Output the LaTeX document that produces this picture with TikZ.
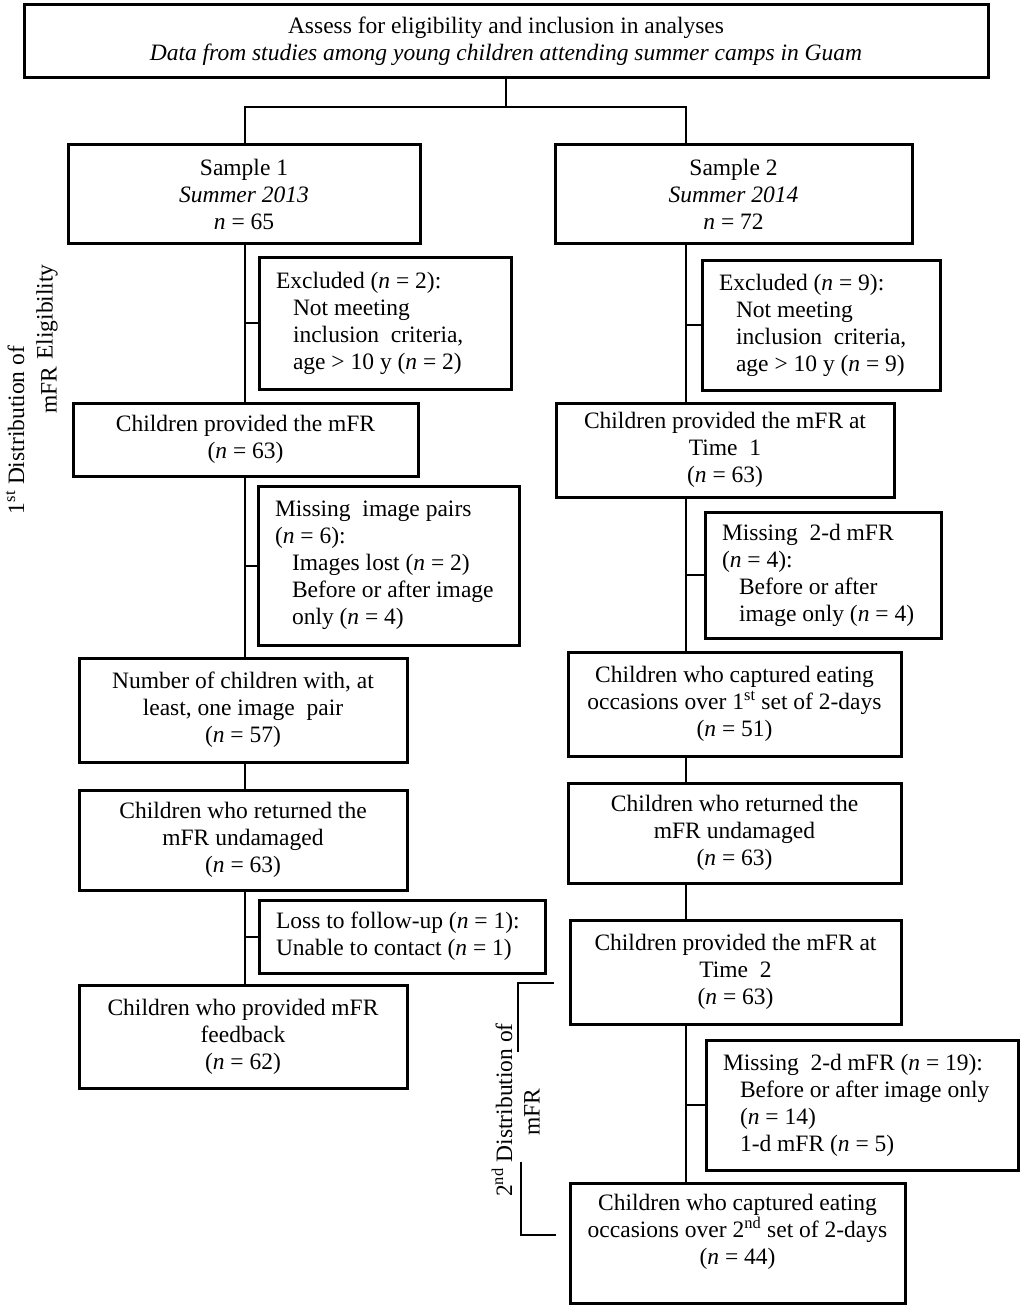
\documentclass[tikz,border=0pt]{standalone}
\usepackage{fontspec}
\setmainfont{Liberation Serif}
\newcommand{\ind}{\hspace*{17pt}}
\newcommand{\nn}{\textit{n}}
\newcommand{\ltext}[2]{\parbox{#1}{\raggedright #2}}
\tikzset{
  box/.style={draw, line width=3pt, rectangle, inner xsep=0pt, inner ysep=0pt, align=center,
    font=\fontsize{23.5}{27}\selectfont},
  lbox/.style={box},
  conn/.style={line width=2pt},
  side/.style={font=\fontsize{23.5}{27}\selectfont, rotate=90, inner sep=0pt}
}
\begin{document}
\begin{tikzpicture}[x=1pt,y=-1pt]
\useasboundingbox (0,0) rectangle (1024,1308);
\fill[white] (0,0) rectangle (1024,1308);
% top
\node[box, minimum width=964pt, minimum height=73pt] (top) at (506,41.5)
  {Assess for eligibility and inclusion in analyses\\
   \textit{Data from studies among young children attending summer camps in Guam}};
% samples
\node[box, minimum width=352pt, minimum height=98pt] (s1) at (244,194)
  {Sample 1\\ \textit{Summer 2013}\\ \nn{} = 65};
\node[box, minimum width=357pt, minimum height=98pt] (s2) at (733.5,194)
  {Sample 2\\ \textit{Summer 2014}\\ \nn{} = 72};
% left column
\node[lbox, minimum width=252pt, minimum height=132pt] (ex1) at (385,323)
  {\ltext{218pt}{Excluded (\nn{} = 2):\\ \ind Not meeting\\ \ind inclusion\ \ criteria,\\ \ind age > 10 y (\nn{} = 2)}};
\node[box, minimum width=345pt, minimum height=73pt] (c1) at (245.5,439.5)
  {Children provided the mFR\\ (\nn{} = 63)};
\node[lbox, minimum width=261pt, minimum height=159pt] (mi1) at (388.5,565.5)
  {\ltext{227pt}{Missing\ \ image pairs\\ (\nn{} = 6):\\ \ind Images lost (\nn{} = 2)\\ \ind Before or after image\\ \ind only (\nn{} = 4)}};
\node[box, minimum width=328pt, minimum height=104pt] (n1) at (243,710)
  {Number of children with, at\\ least, one image\ \ pair\\ (\nn{} = 57)};
\node[box, minimum width=328pt, minimum height=100pt] (r1) at (243,840)
  {Children who returned the\\ mFR undamaged\\ (\nn{} = 63)};
\node[lbox, minimum width=286pt, minimum height=73pt] (l1) at (402,936.5)
  {\ltext{252pt}{Loss to follow-up (\nn{} = 1):\\ Unable to contact (\nn{} = 1)}};
\node[box, minimum width=328pt, minimum height=103pt] (f1) at (243,1036.5)
  {Children who provided mFR\\ feedback\\ (\nn{} = 62)};
% right column
\node[lbox, minimum width=238pt, minimum height=130pt] (ex2) at (821,325)
  {\ltext{204pt}{Excluded (\nn{} = 9):\\ \ind Not meeting\\ \ind inclusion\ \ criteria,\\ \ind age > 10 y (\nn{} = 9)}};
\node[box, minimum width=338pt, minimum height=94pt] (c2) at (725,450)
  {Children provided the mFR at\\ Time\ \ 1\\ (\nn{} = 63)};
\node[lbox, minimum width=236pt, minimum height=126pt] (mi2) at (823,575)
  {\ltext{202pt}{Missing\ \ 2-d mFR\\ (\nn{} = 4):\\ \ind Before or after\\ \ind image only (\nn{} = 4)}};
\node[box, minimum width=333pt, minimum height=104pt] (cap1) at (734.5,704)
  {Children who captured eating\\ occasions over 1\textsuperscript{st} set of 2-days\\ (\nn{} = 51)};
\node[box, minimum width=333pt, minimum height=100pt] (r2) at (734.5,833)
  {Children who returned the\\ mFR undamaged\\ (\nn{} = 63)};
\node[box, minimum width=331pt, minimum height=104pt] (t2) at (735.5,972)
  {Children provided the mFR at\\ Time\ \ 2\\ (\nn{} = 63)};
\node[lbox, minimum width=312pt, minimum height=130pt] (mi3) at (862,1105)
  {\ltext{278pt}{Missing\ \ 2-d mFR (\nn{} = 19):\\ \ind Before or after image only\\ \ind (\nn{} = 14)\\ \ind 1-d mFR (\nn{} = 5)}};
\node[box, minimum width=335pt, minimum height=120pt] (cap2) at (737.5,1243)
  {Children who captured eating\\ occasions over 2\textsuperscript{nd} set of 2-days\\ (\nn{} = 44)\\ \mbox{}};
% spine coordinates
\coordinate (jt) at (506,107);
\coordinate (sL) at (245,107);
\coordinate (sR) at (686,107);
% connectors
\draw[conn] (jt |- top.south) -- (jt);
\draw[conn] (sL |- s1.north) -- (sL) -- (sR) -- (sR |- s2.north);
\draw[conn] (sL |- s1.south) -- (sL |- c1.north);
\draw[conn] (sL |- ex1.west) -- (ex1.west);
\draw[conn] (sL |- c1.south) -- (sL |- n1.north);
\draw[conn] (sL |- mi1.west) -- (mi1.west);
\draw[conn] (sL |- n1.south) -- (sL |- r1.north);
\draw[conn] (sL |- r1.south) -- (sL |- f1.north);
\draw[conn] (sL |- l1.west) -- (l1.west);
\draw[conn] (sR |- s2.south) -- (sR |- c2.north);
\draw[conn] (sR |- ex2.west) -- (ex2.west);
\draw[conn] (sR |- c2.south) -- (sR |- cap1.north);
\draw[conn] (sR |- mi2.west) -- (mi2.west);
\draw[conn] (sR |- cap1.south) -- (sR |- r2.north);
\draw[conn] (sR |- r2.south) -- (sR |- t2.north);
\draw[conn] (sR |- t2.south) -- (sR |- cap2.north);
\draw[conn] (sR |- mi3.west) -- (mi3.west);
% side labels
\node[side] (elig) at (47,312) {Eligibility};
\node[side] (d1a) at (15,430) {1\textsuperscript{st} Distribution of};
\node[side] (d1b) at (49,390) {mFR};
\node[side] (d2a) at (502,1110) {2\textsuperscript{nd} Distribution of};
\node[side] (d2b) at (532,1112) {mFR};
% bracket
\coordinate (b1) at (554,983);
\coordinate (b2) at (518,983);
\coordinate (b3) at (518,1052);
\coordinate (b4) at (521,1162);
\coordinate (b5) at (521,1235);
\coordinate (b6) at (556,1235);
\draw[conn] (b1) -- (b2) -- (b3);
\draw[conn] (b4) -- (b5) -- (b6);
\end{tikzpicture}
\end{document}
